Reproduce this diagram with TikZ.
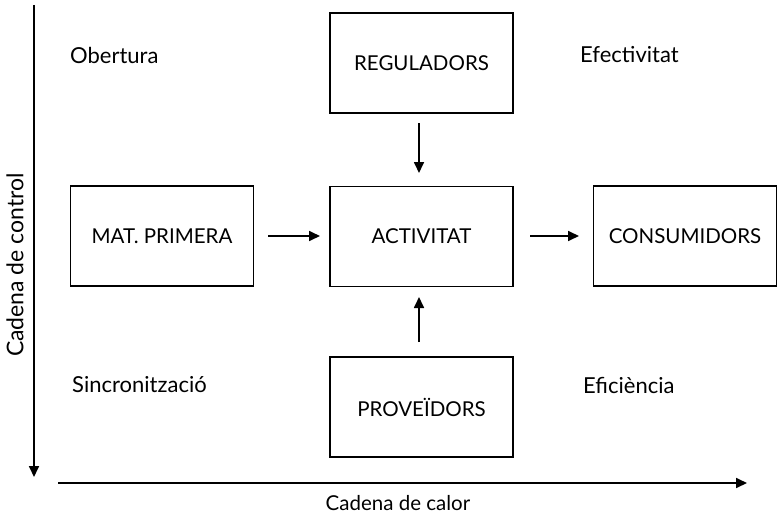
\documentclass[tikz,border=0pt]{standalone}
\usepackage{fontspec}
\setmainfont{Lato}
\usetikzlibrary{arrows.meta}
\begin{document}
\begin{tikzpicture}[x=1pt,y=-1pt,
  box/.style={draw,line width=1.7pt,minimum width=183pt,minimum height=100pt,inner sep=0pt,font=\fontsize{20.5}{24}\selectfont},
  lbl/.style={font=\fontsize{22}{24}\selectfont,anchor=west,inner sep=0pt},
  arr/.style={line width=1.7pt,-{Triangle[length=11pt,width=10pt]}}]
\useasboundingbox (0,0) rectangle (778,516);
\node[box] (reg) at (421.5,63) {REGULADORS};
\node[box] (act) at (421.5,236.5) {ACTIVITAT};
\node[box] (prov) at (421.5,407) {PROVEÏDORS};
\node[box] (mat) at (162,236) {MAT. PRIMERA};
\node[box] (cons) at (685,236) {CONSUMIDORS};
\coordinate (m1) at (268,236);
\coordinate (m2) at (320,236);
\coordinate (c1) at (530,236);
\coordinate (c2) at (579,236);
\coordinate (r1) at (419,123);
\coordinate (r2) at (419,173);
\coordinate (p1) at (419,342);
\coordinate (p2) at (419,297);
\draw[arr] (m1) -- (m2);
\draw[arr] (c1) -- (c2);
\draw[arr] (r1) -- (r2);
\draw[arr] (p1) -- (p2);
\node[lbl] (ob) at (70,55) {Obertura};
\node[lbl] (ef) at (580,55) {Efectivitat};
\node[lbl] (si) at (72,385) {Sincronització};
\node[lbl] (efi) at (583,385) {Eficiència};
\coordinate (v1) at (34,5);
\coordinate (v2) at (34,477);
\coordinate (h1) at (58,483);
\coordinate (h2) at (747,483);
\draw[arr] (v1) -- (v2);
\draw[arr] (h1) -- (h2);
\node[font=\fontsize{20.5}{24}\selectfont] (cal) at (398,503) {Cadena de calor};
\node[font=\fontsize{23}{24}\selectfont,rotate=90] (ctl) at (15,265) {Cadena de control};
\end{tikzpicture}
\end{document}
